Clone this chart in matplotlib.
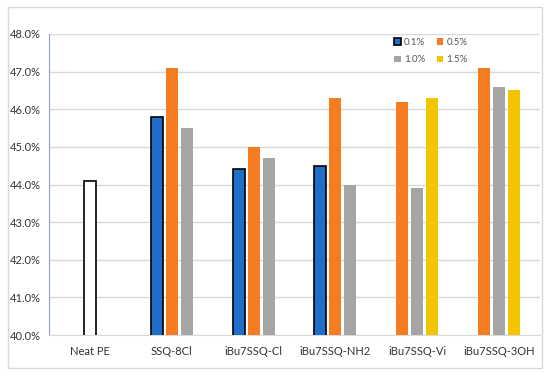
import numpy as np
import matplotlib
matplotlib.use("Agg")
from matplotlib import pyplot as plt
from matplotlib.patches import Rectangle

categories = ['Neat PE', 'SSQ-8Cl', 'iBu7SSQ-Cl', 'iBu7SSQ-NH2', 'iBu7SSQ-Vi', 'iBu7SSQ-3OH']
neat_pe = [44.1, np.nan, np.nan, np.nan, np.nan, np.nan]
conc_01 = [np.nan, 45.8, 44.4, 44.5, np.nan, np.nan]
conc_05 = [np.nan, 47.1, 45.0, 46.3, 46.2, 47.1]
conc_10 = [np.nan, 45.5, 44.7, 44.0, 43.9, 46.6]
conc_15 = [np.nan, np.nan, np.nan, np.nan, 46.3, 46.5]
yticks = [40, 41, 42, 43, 44, 45, 46, 47, 48]

plt.rcParams['font.family'] = ['Lato', 'DejaVu Sans']

series = [
    (neat_pe, None, 'white', 'black'),
    (conc_01, '0.1%', '#1F6FC8', 'black'),
    (conc_05, '0.5%', '#F47D22', 'none'),
    (conc_10, '1.0%', '#A5A5A5', 'none'),
    (conc_15, '1.5%', '#F2C500', 'none'),
]

fig = plt.figure(figsize=(5.5, 3.77), dpi=100)
ax = fig.add_axes([49 / 550, 1 - 335 / 377, 491 / 550, 301 / 377])

# outer chart border
fig.patches.append(Rectangle((8 / 550, 1 - 368 / 377), 534 / 550, 361 / 377,
                             transform=fig.transFigure, fill=False,
                             edgecolor='#D9D9D9', linewidth=1))

step = 0.184
width = 0.147
data = np.array([s[0] for s in series], dtype=float)
x = np.arange(len(categories))

# bars in each group are centred on the ones that are present
offsets = np.full(data.shape, np.nan)
for j in range(len(categories)):
    idx = np.where(~np.isnan(data[:, j]))[0]
    offsets[idx, j] = (np.arange(len(idx)) - (len(idx) - 1) / 2) * step

handles = {}
for i, (vals, label, color, edge) in enumerate(series):
    mask = ~np.isnan(data[i])
    lw = 1.2 if edge != 'none' else 0
    bars = ax.bar(x[mask] + offsets[i][mask], data[i][mask], width=width, color=color,
                  edgecolor=edge, linewidth=lw, zorder=3)
    if label:
        handles[label] = bars

ax.set_xlim(-0.5, len(categories) - 0.5)
ax.set_ylim(40, 48)
ax.set_yticks(yticks)
ax.set_yticklabels([f'{v:.1f}%' for v in yticks], fontsize=8, color='#333333')
ax.set_xticks(x)
ax.set_xticklabels(categories, fontsize=8, color='#333333')
ax.tick_params(axis='both', length=0, pad=6)
ax.tick_params(axis='x', pad=8)
ax.grid(axis='y', color='#D9D9D9', linewidth=1, zorder=0)
ax.set_axisbelow(True)
for side in ['top', 'right']:
    ax.spines[side].set_visible(False)
ax.spines['left'].set_color('#8FA0CC')
ax.spines['bottom'].set_color('#D9D9D9')

# legend filled row by row: 0.1% 0.5% / 1.0% 1.5%
order = ['0.1%', '1.0%', '0.5%', '1.5%']
ax.legend([handles[k] for k in order], order, ncol=2, loc='upper left',
          bbox_to_anchor=(0.685, 1.015), frameon=False,
          fontsize=7, handlelength=0.7, handleheight=0.7, handletextpad=0.3,
          columnspacing=1.2, labelspacing=0.85, labelcolor='#555555')

fig.savefig('out.png', dpi=100)
